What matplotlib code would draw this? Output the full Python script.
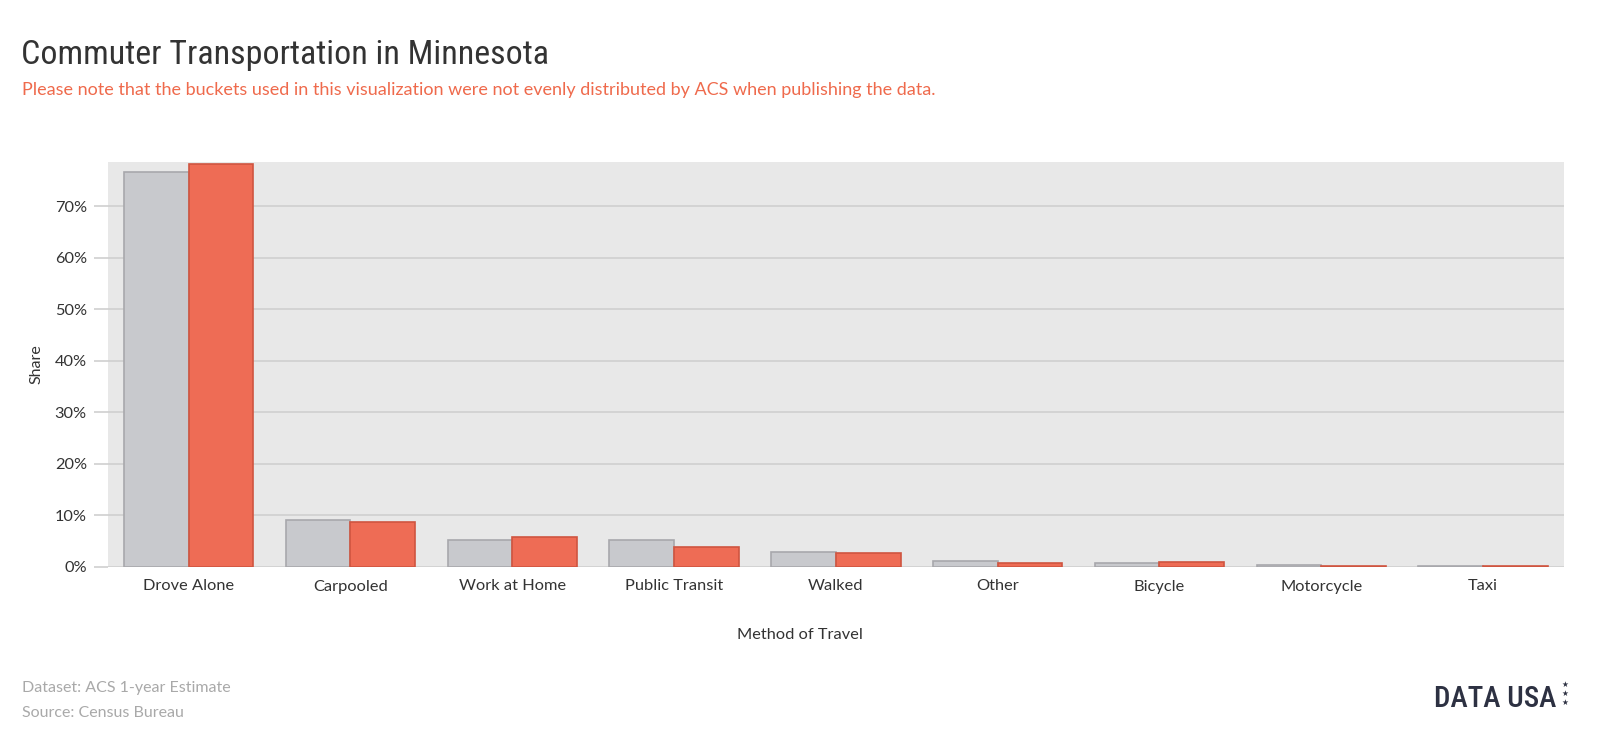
import matplotlib
matplotlib.use('Agg')
import matplotlib.pyplot as plt
import numpy as np
from matplotlib.ticker import FuncFormatter

categories = ["Drove Alone", "Carpooled", "Work at Home", "Public Transit", "Walked",
              "Other", "Bicycle", "Motorcycle", "Taxi"]
share_gray = [76.6, 9.2, 5.2, 5.2, 2.9, 1.1, 0.8, 0.3, 0.2]
share_orange = [78.3, 8.7, 5.9, 3.8, 2.7, 0.8, 0.9, 0.25, 0.15]
y_ticks = [0, 10, 20, 30, 40, 50, 60, 70]

W, H = 1600, 748
fig = plt.figure(figsize=(16, 7.48), dpi=100)
fig.patch.set_facecolor('white')

def fx(px):
    return px / W

def fy(py):
    return 1 - py / H

BODY = ['Lato', 'DejaVu Sans']
NARROW = ['Roboto Condensed', 'DejaVu Sans']

left, right, top, bottom = 107.7, 1564, 162, 567
ax = fig.add_axes([fx(left), fy(bottom), (right - left) / W, (bottom - top) / H])
ax.set_facecolor('#e8e8e8')
x = np.arange(len(categories))
ax.bar(x - 0.2, share_gray, 0.4, color='#c8c9cd', edgecolor='#a8a8ac', linewidth=1.2, zorder=3)
ax.bar(x + 0.2, share_orange, 0.4, color='#ee6c55', edgecolor='#cf5540', linewidth=1.2, zorder=3)
ax.set_xlim(-0.5, len(categories) - 0.5)
ax.set_ylim(0, 78.6)
ax.set_yticks(y_ticks)
ax.yaxis.set_major_formatter(FuncFormatter(lambda v, p: f"{int(v)}%"))
ax.set_xticks(x)
ax.set_xticklabels(categories, family=BODY, fontsize=11.8, color='#333333')
for lab in ax.get_yticklabels():
    lab.set_family(BODY)
ax.grid(axis='y', color='#cfcfcf', linewidth=1.2, zorder=1)
ax.set_axisbelow(True)
for s in ax.spines.values():
    s.set_visible(False)
ax.tick_params(axis='y', length=10, color='#cfcfcf', width=1.2, pad=5, labelsize=11.8, labelcolor='#333333')
ax.tick_params(axis='x', length=0, pad=9, labelsize=11.8)

fig.text(fx(36), fy(364), "Share", rotation=90, ha='center', va='center',
         family=BODY, fontsize=11.5, color='#333333')
fig.text(fx(800), fy(635), "Method of Travel", ha='center', va='center',
         family=BODY, fontsize=11.8, color='#333333')

fig.text(fx(21), fy(64), "Commuter Transportation in Minnesota", ha='left', va='baseline',
         family=NARROW, fontstretch='condensed', fontsize=24.5, color='#333333')
fig.text(fx(22), fy(95), "Please note that the buckets used in this visualization were not evenly distributed by ACS when publishing the data.",
         ha='left', va='baseline', family=BODY, fontsize=13, color='#ef6a4c')

fig.text(fx(22), fy(688), "Dataset: ACS 1-year Estimate", ha='left', va='center',
         family=BODY, fontsize=11.5, color='#a9a9a9')
fig.text(fx(22), fy(713), "Source: Census Bureau", ha='left', va='center',
         family=BODY, fontsize=11.5, color='#a9a9a9')

fig.text(fx(1556), fy(707), "DATA USA", ha='right', va='baseline',
         family=NARROW, fontstretch='condensed', fontweight='medium', fontsize=21, color='#2d3142')
for sy in (684, 693, 702):
    fig.text(fx(1565), fy(sy), "\u2605", ha='center', va='center',
             family=['DejaVu Sans'], fontsize=5.5, color='#2d3142')

fig.savefig('out.png', dpi=100, facecolor='white')
